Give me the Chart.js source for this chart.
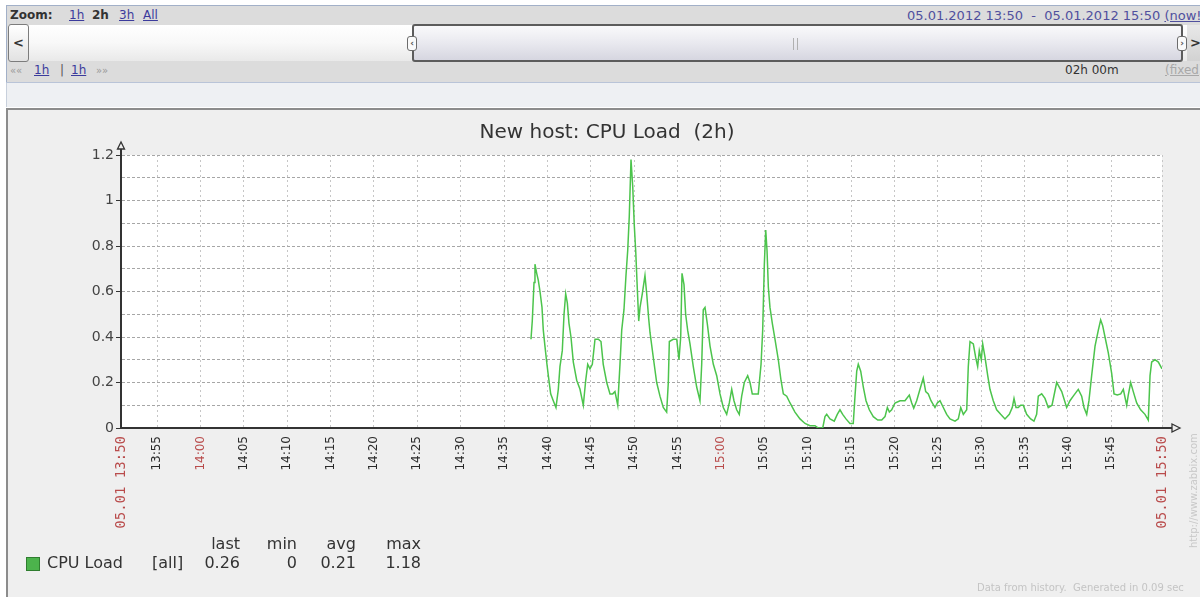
<!DOCTYPE html>
<html><head><meta charset="utf-8">
<script src="https://cdn.jsdelivr.net/npm/chart.js@4.4.0/dist/chart.umd.min.js"></script>
<style>
html,body{margin:0;padding:0;width:1200px;height:597px;overflow:hidden;background:#fff;font-family:"DejaVu Sans",sans-serif;}
.abs{position:absolute;white-space:nowrap;}
.t12{font-size:12px;line-height:14px;}
.lnk{color:#3b3b9c;text-decoration:underline;}
.lg{font-size:16px;line-height:18px;color:#333;}
</style></head><body>
<!-- header panel -->
<div class="abs" style="left:6px;top:5px;width:1194px;height:77px;background:#dcdcdc;border-top:1px solid #a2b0c8;border-left:1px solid #a2b0c8"></div>
<div class="abs" style="left:6px;top:82px;width:1194px;height:1px;background:#b9c4d8"></div>
<div class="abs" style="left:6px;top:83px;width:1194px;height:24px;background:#eef0f3;border-left:1px solid #c8d0dc"></div>
<div class="abs t12" style="left:10px;top:8px;font-weight:bold;color:#333">Zoom:</div>
<div class="abs t12 lnk" style="left:69px;top:8px">1h</div>
<div class="abs t12" style="left:92px;top:8px;font-weight:bold;color:#333">2h</div>
<div class="abs t12 lnk" style="left:119px;top:8px">3h</div>
<div class="abs t12 lnk" style="left:143px;top:8px">All</div>
<div class="abs" style="left:907px;top:8px;font-size:13px;line-height:15px;color:#50509e">05.01.2012 13:50 &nbsp;- &nbsp;05.01.2012 15:50 <span style="text-decoration:underline">(now!)</span></div>
<!-- scrollbar -->
<div class="abs" style="left:8px;top:25px;width:1192px;height:36px;background:linear-gradient(#ffffff,#f8f8f8 50%,#e9e9e9)"></div>
<div class="abs" style="left:8px;top:24px;width:19px;height:36px;border:1px solid #7c7c7c;border-radius:3px;background:linear-gradient(#ffffff,#e2e2e2);font:bold 13px 'DejaVu Sans';line-height:36px;text-align:center;color:#333">&lt;</div>
<div class="abs" style="left:412px;top:24px;width:767px;height:34px;border:2px solid #5c5c5c;border-radius:3px;background:linear-gradient(#f9f9fb,#e9e9ef 50%,#d6d6e0)"></div>
<div class="abs" style="left:407px;top:36px;width:8px;height:13px;border:1px solid #6c6c6c;border-radius:3px;background:#fafafa;font:bold 9px 'DejaVu Sans';line-height:13px;text-align:center;color:#555">‹</div>
<div class="abs" style="left:1177px;top:36px;width:8px;height:13px;border:1px solid #6c6c6c;border-radius:3px;background:#fafafa;font:bold 9px 'DejaVu Sans';line-height:13px;text-align:center;color:#555">›</div>
<div class="abs" style="left:793px;top:38px;width:1px;height:12px;background:#b0b0b0"></div>
<div class="abs" style="left:797px;top:38px;width:1px;height:12px;background:#b0b0b0"></div>
<div class="abs" style="left:1187px;top:25px;width:13px;height:36px;background:linear-gradient(#e8e8e8,#d2d2d2)"></div>
<div class="abs" style="left:1190px;top:35px;font:bold 13px 'DejaVu Sans';line-height:15px;color:#333">&gt;</div>
<!-- row 3 -->
<div class="abs t12" style="left:10px;top:64px;color:#9a9a9a;font-size:10px">««</div>
<div class="abs t12 lnk" style="left:34px;top:63px">1h</div>
<div class="abs t12" style="left:60px;top:63px;color:#555">|</div>
<div class="abs t12 lnk" style="left:71px;top:63px">1h</div>
<div class="abs t12" style="left:96px;top:64px;color:#9a9a9a;font-size:10px">»»</div>
<div class="abs t12" style="left:1065px;top:63px;color:#333">02h 00m</div>
<div class="abs t12" style="left:1165px;top:63px;color:#a8a8a8;text-decoration:underline">(fixed)</div>
<!-- graph box -->
<div class="abs" style="left:6px;top:108px;width:1194px;height:489px;background:#efefef;border-top:2px solid #8c8c8c;border-left:2px solid #8c8c8c"></div>
<canvas id="c" width="1192" height="486" style="position:absolute;left:8px;top:111px"></canvas>
<div id="legend"></div>
<div class="abs" style="left:977px;top:582px;font-size:10px;line-height:12px;color:#c4c4c4">Data from history.&nbsp; Generated in 0.09 sec</div>
<div class="abs" style="left:1188px;top:548px;font-size:10px;line-height:12px;color:#c8c8c8;transform:rotate(-90deg);transform-origin:left top">http://www.zabbix.com</div>
<script>
// ---- data (minutes after 13:50 on 05.01.2012) ----
const sampleMinutes = [48.11,48.26,48.46,48.57,48.77,48.95,49.15,49.38,49.53,49.72,49.92,50.11,50.38,50.68,50.99,51.26,51.45,51.72,51.92,52.11,52.30,52.49,52.72,52.99,53.38,53.76,54.14,54.42,54.65,54.91,55.18,55.49,55.87,56.18,56.44,56.84,57.22,57.53,57.79,58.11,58.37,58.57,58.83,59.06,59.26,59.44,59.64,59.84,60.02,60.18,60.37,60.53,60.68,60.94,61.25,61.45,61.68,61.83,62.21,62.60,62.98,63.36,63.75,63.94,64.06,64.51,64.91,65.17,65.37,65.52,65.75,65.94,66.17,66.44,66.82,67.21,67.59,67.79,67.97,68.17,68.43,68.75,69.13,69.52,69.90,70.28,70.67,70.97,71.25,71.51,71.82,72.12,72.40,72.70,73.09,73.36,73.62,73.93,74.31,74.63,74.82,75.01,75.17,75.32,75.47,75.66,75.93,76.24,76.62,76.93,77.20,77.59,77.97,78.54,79.12,79.70,80.27,80.85,81.23,81.74,82.00,82.20,82.58,83.07,83.42,83.73,84.04,84.42,84.88,85.26,85.46,85.66,85.84,86.12,86.42,86.73,87.11,87.57,88.08,88.54,88.92,89.19,89.42,89.69,90.07,90.65,91.22,91.72,92.00,92.23,92.57,92.95,93.33,93.61,93.91,94.22,94.68,94.95,95.26,95.64,96.03,96.41,96.99,97.37,97.65,97.95,98.34,98.52,98.72,99.10,99.37,99.60,99.79,100.02,100.18,100.45,100.76,101.02,101.40,101.79,102.25,102.75,103.25,103.59,103.79,104.02,104.28,104.56,104.86,105.25,105.71,106.09,106.40,106.59,106.98,107.36,107.74,108.17,108.71,109.29,109.86,110.24,110.62,111.20,111.59,111.86,112.17,112.43,112.74,113.13,113.51,113.78,114.01,114.28,114.66,115.05,115.32,115.70,116.09,116.39,116.78,116.96,117.24,117.54,117.93,118.39,118.89,119.27,119.47,119.66,120.04,120.43,120.85];
const cpuLoad = [0.39,0.47,0.64,0.72,0.68,0.65,0.60,0.53,0.43,0.36,0.29,0.23,0.15,0.12,0.09,0.17,0.27,0.34,0.50,0.59,0.55,0.46,0.40,0.29,0.21,0.17,0.10,0.21,0.28,0.26,0.28,0.39,0.39,0.38,0.28,0.20,0.15,0.15,0.16,0.10,0.28,0.43,0.52,0.67,0.78,0.93,1.18,1.06,0.89,0.78,0.61,0.47,0.53,0.59,0.67,0.59,0.48,0.42,0.31,0.20,0.14,0.09,0.07,0.20,0.38,0.39,0.39,0.30,0.40,0.68,0.63,0.50,0.43,0.37,0.27,0.18,0.12,0.28,0.52,0.53,0.46,0.36,0.28,0.23,0.15,0.09,0.06,0.11,0.17,0.12,0.08,0.06,0.14,0.20,0.23,0.20,0.15,0.15,0.15,0.28,0.43,0.72,0.87,0.78,0.62,0.53,0.46,0.39,0.30,0.21,0.15,0.14,0.11,0.07,0.04,0.02,0.01,0.01,0,0,0.05,0.06,0.04,0.03,0.06,0.08,0.06,0.04,0.02,0.02,0.14,0.25,0.28,0.25,0.18,0.12,0.08,0.05,0.035,0.035,0.05,0.09,0.07,0.08,0.11,0.12,0.12,0.145,0.11,0.087,0.12,0.17,0.22,0.16,0.15,0.12,0.09,0.11,0.12,0.09,0.06,0.04,0.03,0.04,0.09,0.06,0.08,0.27,0.38,0.37,0.31,0.27,0.34,0.30,0.37,0.31,0.23,0.17,0.12,0.08,0.06,0.04,0.06,0.09,0.13,0.09,0.09,0.10,0.10,0.06,0.04,0.03,0.06,0.14,0.15,0.13,0.09,0.10,0.20,0.16,0.09,0.12,0.14,0.17,0.14,0.09,0.06,0.12,0.23,0.36,0.43,0.475,0.45,0.40,0.33,0.24,0.15,0.145,0.15,0.17,0.10,0.145,0.20,0.16,0.11,0.08,0.06,0.035,0.23,0.29,0.30,0.29,0.26];
const tickMinutes = [0.85,5,10,15,20,25,30,35,40,45,50,55,60,65,70,75,80,85,90,95,100,105,110,115,120.85];
const tickLabels = ['05.01 13:50','13:55','14:00','14:05','14:10','14:15','14:20','14:25','14:30','14:35','14:40','14:45','14:50','14:55','15:00','15:05','15:10','15:15','15:20','15:25','15:30','15:35','15:40','15:45','05.01 15:50'];
const redTickLabels = ['05.01 13:50','14:00','15:00','05.01 15:50'];
const yTickValues = [0,0.1,0.2,0.3,0.4,0.5,0.6,0.7,0.8,0.9,1.0,1.1,1.2];
const titleText = 'New host: CPU Load  (2h)';
const seriesName = 'CPU Load';
const seriesScope = '[all]';
const statNames = ['last','min','avg','max'];
const statValues = ['0.26','0','0.21','1.18'];

// ---- legend (HTML) ----
const lg = document.getElementById('legend');
function addDiv(style, text, cls){ const d=document.createElement('div'); d.className='abs '+(cls||''); d.setAttribute('style',style); if(text!==undefined) d.textContent=text; lg.appendChild(d); return d; }
addDiv('left:26px;top:557px;width:12px;height:12px;background:#4cb34c;border:1px solid #2f7d2f');
addDiv('left:47px;top:554px', seriesName, 'lg');
addDiv('left:152px;top:554px', seriesScope, 'lg');
const colRight = [240,297,356,421];
statNames.forEach((n,i)=>{
  addDiv('left:'+(colRight[i]-70)+'px;top:535px;width:70px;text-align:right', n, 'lg');
  addDiv('left:'+(colRight[i]-70)+'px;top:554px;width:70px;text-align:right', statValues[i], 'lg');
});

// ---- chart ----
const plotBg = { id:'plotBg', beforeDraw(chart){ const {ctx, chartArea:a}=chart; ctx.save(); ctx.fillStyle='#ffffff'; ctx.fillRect(a.left,a.top,a.right-a.left,a.bottom-a.top); ctx.restore(); } };
const arrows = { id:'arrows', afterDraw(chart){
  const {ctx, chartArea:a}=chart; ctx.save();
  ctx.strokeStyle='#333'; ctx.lineWidth=2;
  ctx.beginPath(); ctx.moveTo(a.left,a.top); ctx.lineTo(a.left,a.top-8);
  ctx.moveTo(a.right,a.bottom); ctx.lineTo(a.right+11,a.bottom); ctx.stroke();
  ctx.lineWidth=1.3; ctx.fillStyle='#efefef';
  ctx.beginPath(); ctx.moveTo(a.left,a.top-13); ctx.lineTo(a.left-3.5,a.top-6); ctx.lineTo(a.left+3.5,a.top-6); ctx.closePath(); ctx.fill(); ctx.stroke();
  ctx.beginPath(); ctx.moveTo(a.right+18,a.bottom); ctx.lineTo(a.right+10,a.bottom-4); ctx.lineTo(a.right+10,a.bottom+4); ctx.closePath(); ctx.fill(); ctx.stroke();
  ctx.restore(); } };

new Chart(document.getElementById('c'), {
  type:'line',
  data:{ datasets:[{ label:seriesName, data: sampleMinutes.map((t,i)=>({x:t,y:cpuLoad[i]})), borderColor:'#4cc44c', borderWidth:1.5, pointRadius:0, tension:0, fill:false }] },
  options:{
    responsive:false, animation:false, devicePixelRatio:1,
    layout:{ padding:{ left:44, right:38, top:0, bottom:0 } },
    plugins:{ legend:{display:false}, tooltip:{enabled:false},
      title:{ display:true, text:titleText, color:'#333', font:{family:'DejaVu Sans', size:20, weight:'normal', lineHeight:1.2}, padding:{top:10,bottom:10} } },
    scales:{
      x:{ type:'linear', min:tickMinutes[0], max:tickMinutes[tickMinutes.length-1],
        afterBuildTicks: s=>{ s.ticks = tickMinutes.map(v=>({value:v})); },
        afterFit: s=>{ s.height = 169; },
        ticks:{ autoSkip:false, maxRotation:90, minRotation:90, padding:8,
          callback:(v,i)=>tickLabels[i],
          color: c => redTickLabels.includes(tickLabels[c.index]) ? '#b94c4c' : '#2a2a2a',
          font: c => (tickLabels[c.index]||'').length>5 ? {family:'DejaVu Sans Mono', size:14} : {family:'DejaVu Sans', size:12} },
        grid:{ color: c => c.index===0 ? 'rgba(0,0,0,0)' : '#c6c6c6', lineWidth:1, drawTicks:false },
        border:{ display:true, color:'#333', width:2, dash:[2,3] } },
      y:{ min:yTickValues[0], max:yTickValues[yTickValues.length-1],
        afterBuildTicks: s=>{ s.ticks = yTickValues.map(v=>({value:v})); },
        afterFit: s=>{ s.width = 69; },
        ticks:{ padding:2, color:'#444', font:{family:'DejaVu Sans', size:14},
          callback: v => { const k=Math.round(v*10); return k%2===0 ? String(+(k/10).toFixed(1)) : ''; } },
        grid:{ color:'#a6a6a6', lineWidth:1, tickLength:5, tickBorderDash:[],
          tickColor: c => (Math.round(c.tick.value*10)%2===0) ? '#333' : 'rgba(0,0,0,0)' },
        border:{ display:true, color:'#333', width:2, dash:[3,2] } }
    }
  },
  plugins:[plotBg, arrows]
});
</script>
</body></html>
